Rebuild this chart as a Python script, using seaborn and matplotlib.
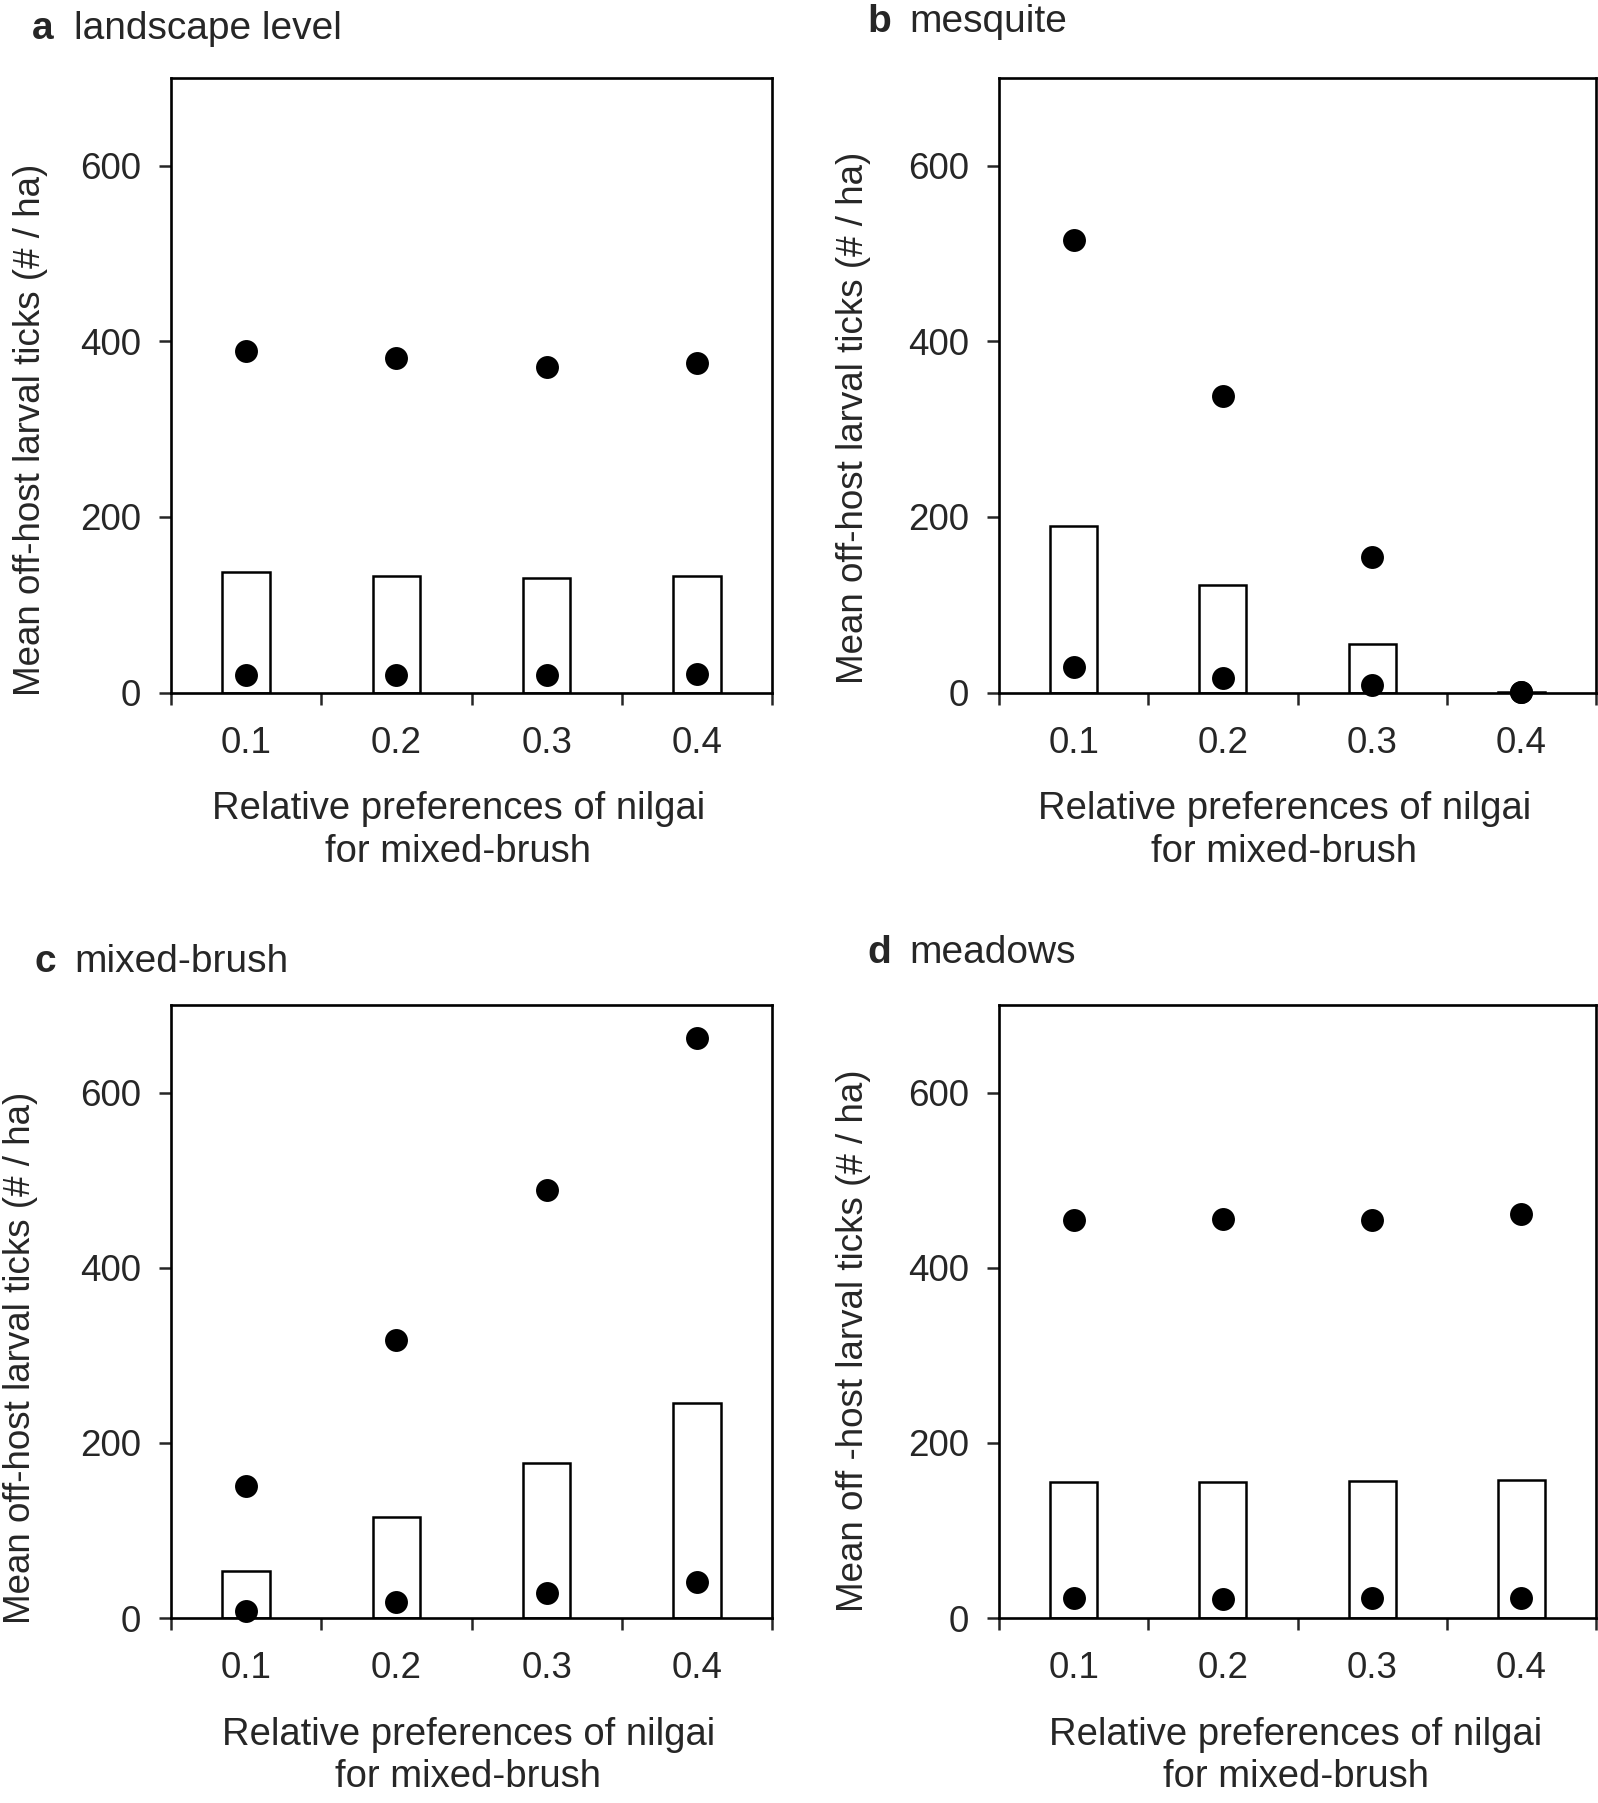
import numpy as np
import pandas as pd
import matplotlib
matplotlib.use('Agg')
import matplotlib.pyplot as plt
import seaborn as sns
from matplotlib.ticker import FixedLocator

sns.set_style('white')
plt.rcParams['font.family'] = ['Liberation Sans', 'DejaVu Sans']

prefs = ['0.1', '0.2', '0.3', '0.4']

# bars = mean, dots = upper / lower values
landscape_bar = [137, 133, 131, 133]
landscape_hi = [389, 381, 371, 375]
landscape_lo = [20, 20, 20, 21]

mesquite_bar = [190, 122, 55, 1]
mesquite_hi = [516, 338, 154, 1]
mesquite_lo = [29, 16, 8, 1]

mixed_bar = [54, 115, 177, 245]
mixed_hi = [151, 317, 489, 662]
mixed_lo = [8, 18, 28, 41]

meadow_bar = [155, 155, 156, 158]
meadow_hi = [454, 456, 454, 461]
meadow_lo = [23, 22, 23, 23]

panels = [
    ('a', 'landscape level', landscape_bar, landscape_hi, landscape_lo,
     'Mean off-host larval ticks (# / ha)'),
    ('b', 'mesquite', mesquite_bar, mesquite_hi, mesquite_lo,
     'Mean off-host larval ticks (# / ha)'),
    ('c', 'mixed-brush', mixed_bar, mixed_hi, mixed_lo,
     'Mean off-host larval ticks (# / ha)'),
    ('d', 'meadows', meadow_bar, meadow_hi, meadow_lo,
     'Mean off -host larval ticks (# / ha)'),
]

W, H = 1598, 1803
fig = plt.figure(figsize=(W / 100, H / 100), dpi=100)

# pixel boxes: left, top, right, bottom
boxes = [(171, 78, 772, 692.5), (999, 78, 1596, 692.5),
         (171, 1005, 772, 1618), (999, 1005, 1596, 1618)]
ylab_pos = [(-0.205, 0.428), (-0.215, 0.447), (-0.222, 0.424), (-0.215, 0.453)]
xlab_x = [0.478, 0.478, 0.495, 0.497]
title_pos = [(32, 74, 39), (867, 909, 32), (35, 74, 972), (867, 909, 963)]

for i, (letter, name, bars, hi, lo, ylab) in enumerate(panels):
    l, t, r, b = boxes[i]
    ax = fig.add_axes([l / W, 1 - b / H, (r - l) / W, (b - t) / H])

    sns.barplot(x=prefs, y=bars, ax=ax, color='white', edgecolor='black',
                linewidth=1.8, width=0.315, saturation=1)
    for y in (hi, lo):
        sns.stripplot(x=prefs, y=y, ax=ax, jitter=False, color='black',
                      size=16.5, linewidth=0)
    for c in ax.collections:
        c.set_clip_on(False)
        c.set_zorder(5)

    ax.set_xlim(-0.5, 3.5)
    ax.set_ylim(0, 700)
    ax.set_yticks([0, 200, 400, 600])
    ax.set_xticks(range(4))
    ax.set_xticklabels(prefs)
    ax.xaxis.set_minor_locator(FixedLocator([-0.5, 0.5, 1.5, 2.5, 3.5]))
    ax.tick_params(axis='x', which='major', length=0, pad=24, labelsize=26.5)
    ax.tick_params(axis='x', which='minor', length=8.5, width=1.8,
                   direction='out', bottom=True)
    ax.tick_params(axis='y', which='major', length=8.5, width=1.8,
                   direction='out', left=True, pad=13, labelsize=26.5)
    for s in ax.spines.values():
        s.set_linewidth(1.9)
        s.set_color('black')

    ax.set_xlabel('Relative preferences of nilgai\nfor mixed-brush',
                  fontsize=27.5, linespacing=1.22)
    ax.xaxis.set_label_coords(xlab_x[i], -0.161)
    ax.set_ylabel(ylab, fontsize=26.5)
    ax.yaxis.set_label_coords(*ylab_pos[i])

    lx, nx, by = title_pos[i]
    fig.text(lx / W, 1 - by / H, letter, fontsize=28, fontweight='bold',
             va='baseline', ha='left')
    fig.text(nx / W, 1 - by / H, name, fontsize=28, va='baseline', ha='left')

fig.savefig('out.png', dpi=100)
